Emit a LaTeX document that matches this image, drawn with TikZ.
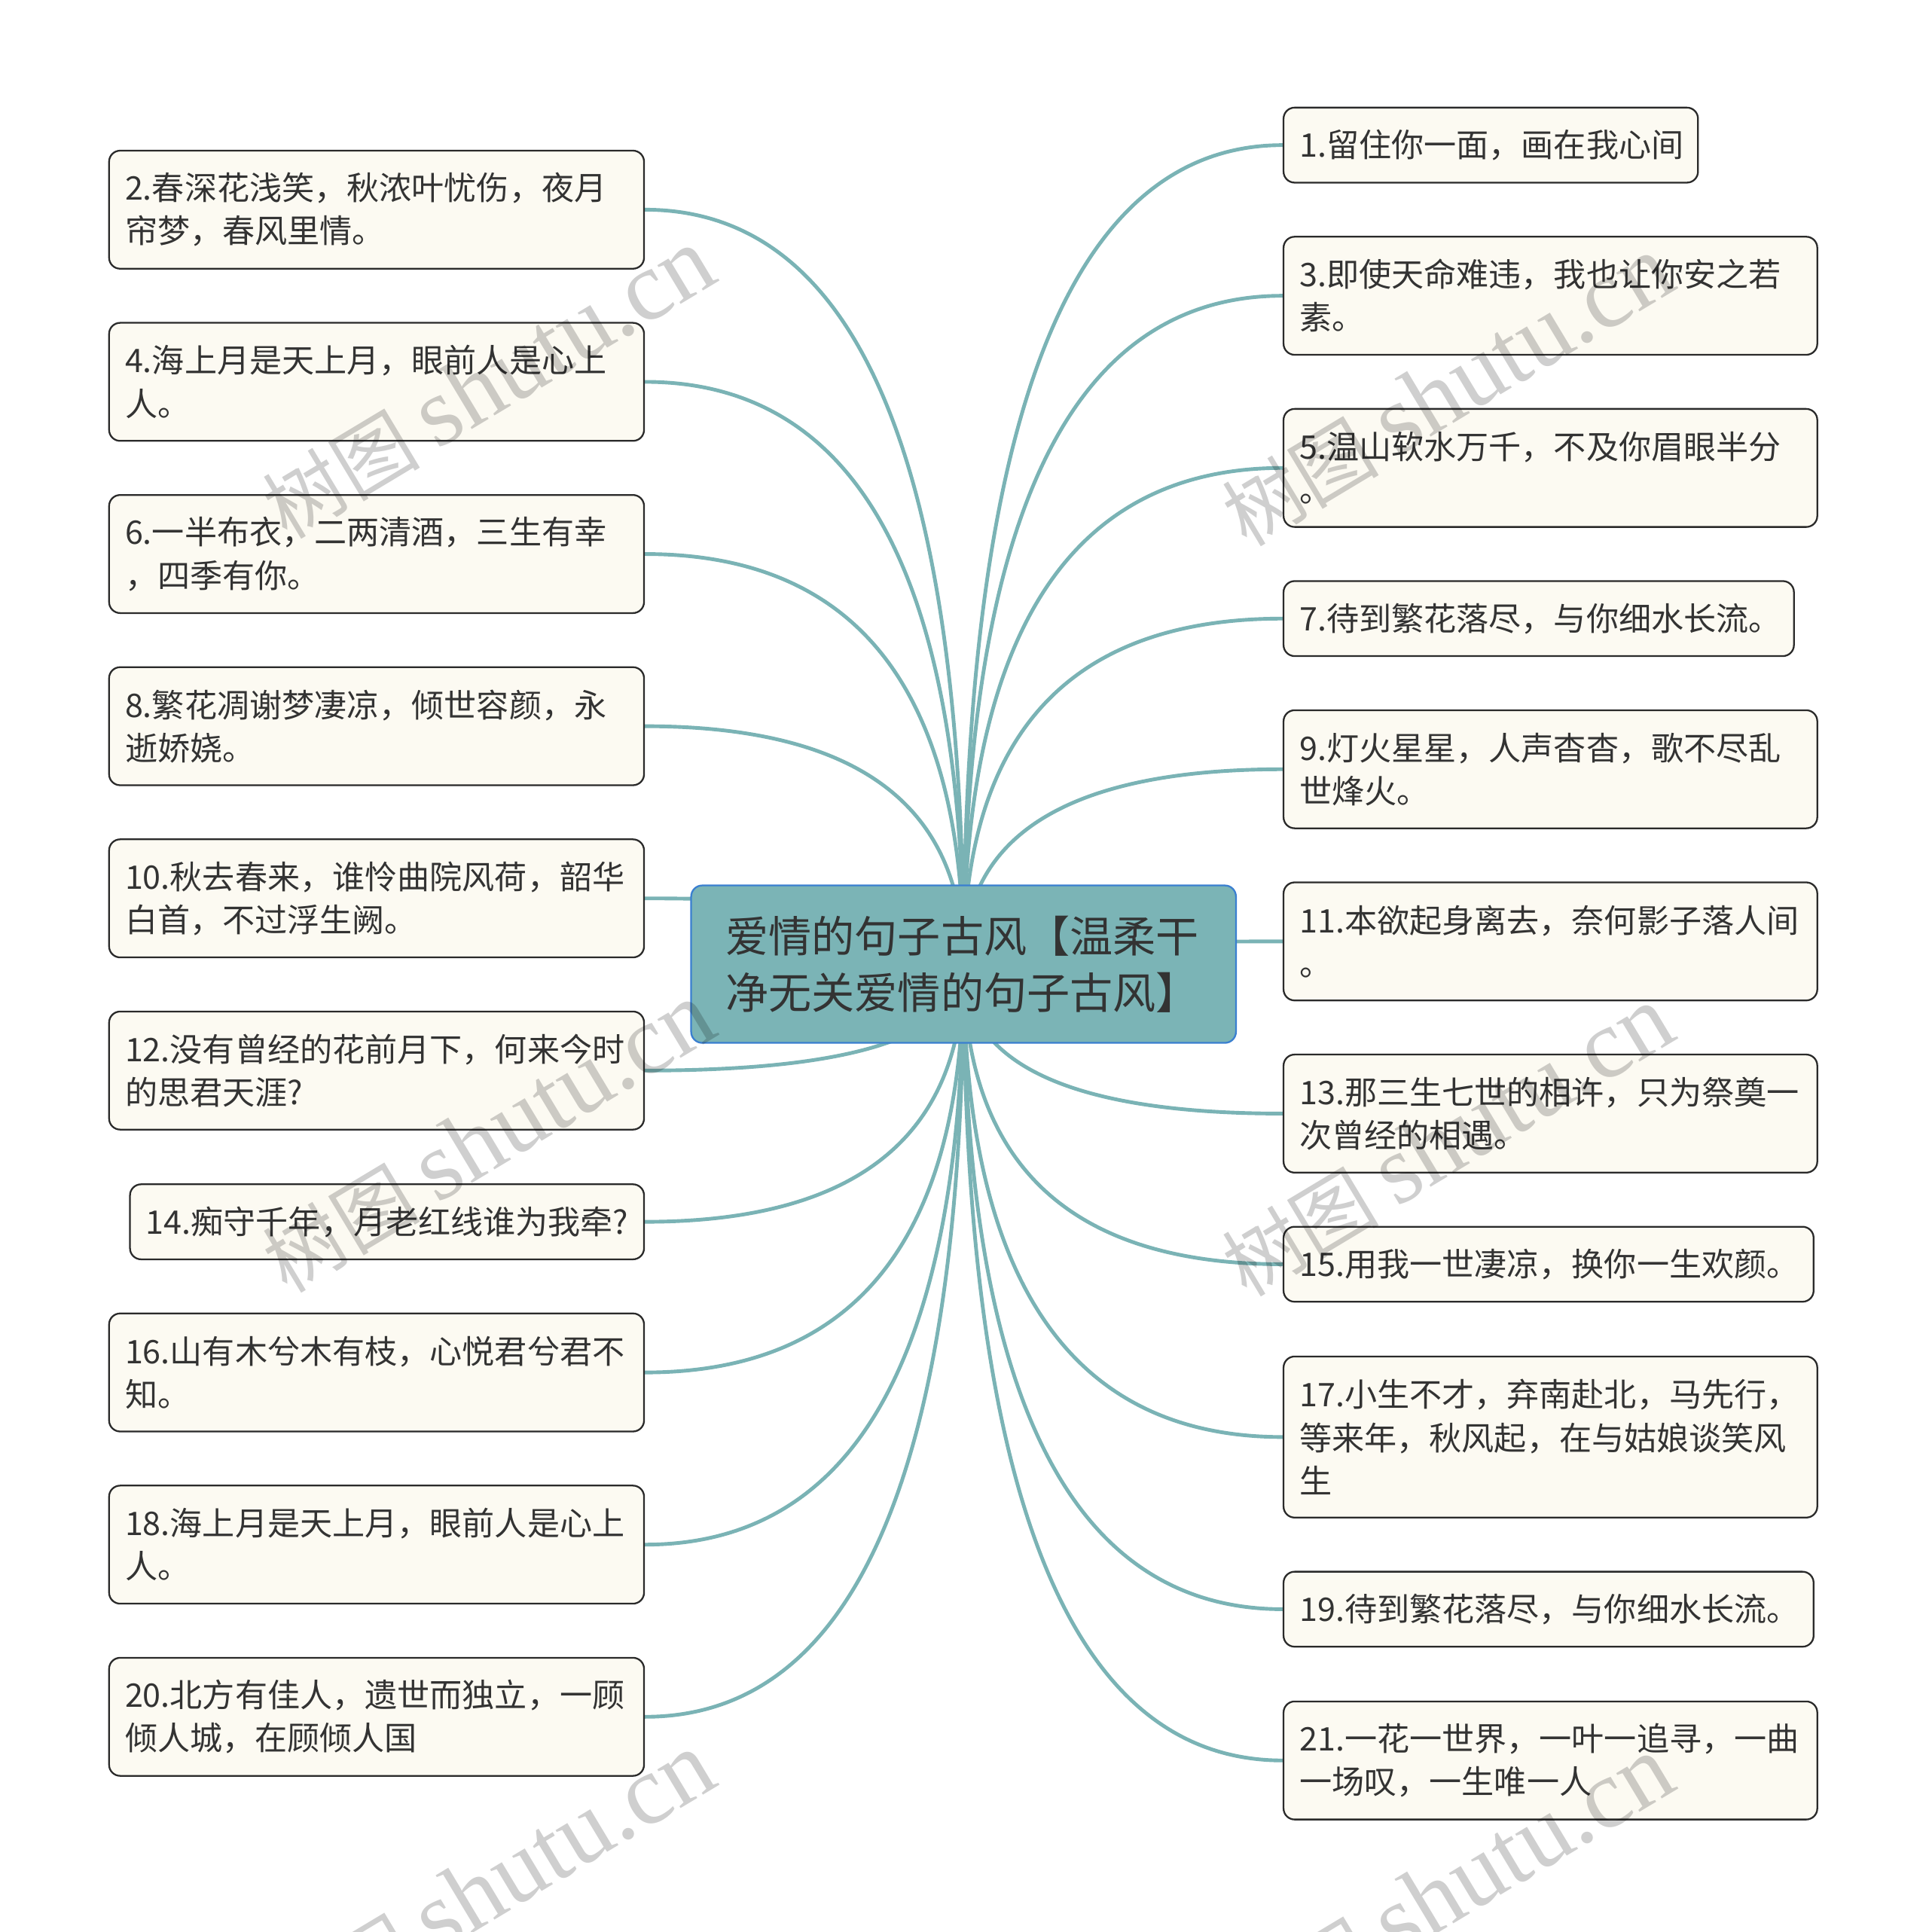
\documentclass[tikz,border=0pt]{standalone}
\usepackage{fontspec}
\setmainfont{Noto Sans CJK SC}
\newfontfamily\wmlatin{Liberation Serif}
\newfontfamily\wmcjk{Noto Sans CJK SC}
\usetikzlibrary{calc}
\pgfdeclarelayer{back}
\pgfdeclarelayer{bg}
\pgfdeclarelayer{fg}
\pgfsetlayers{back,bg,main,fg}
\definecolor{linec}{HTML}{7AB3B5}
\definecolor{leaffill}{HTML}{FCFAF2}
\definecolor{leafdraw}{HTML}{2A2A2A}
\definecolor{rootfill}{HTML}{7BB4B6}
\definecolor{rootdraw}{HTML}{3A7FD0}
\definecolor{txt}{HTML}{333333}
\begin{document}
\begin{tikzpicture}[x=1pt,y=-1pt,
  leaf/.style={draw=leafdraw, line width=1.4pt, fill=leaffill, rounded corners=9pt,
    inner xsep=13pt, inner ysep=0pt, align=left, anchor=west,
    font=\fontsize{26.4}{35}\selectfont, text=txt},
  rootbox/.style={draw=rootdraw, line width=1.4pt, fill=rootfill, rounded corners=9pt,
    inner xsep=28pt, inner ysep=0pt, align=left,
    font=\fontsize{35}{46}\selectfont, text=txt},
  conn/.style={draw=linec, line width=3pt},
  wmark/.style={text=black, text opacity=0.19, rotate=31, inner sep=0pt}
]
\useasboundingbox (0,0) rectangle (1568,1571);
\begin{pgfonlayer}{back}
\fill[white] (0,0) rectangle (1568,1571);
\end{pgfonlayer}
\clip (0,0) rectangle (1568,1571);

% root
\node[rootbox, minimum width=443, minimum height=128, text width=387] (root) at (783.5,784)
  {爱情的句子古风【温柔干\\净无关爱情的句子古风】};

% left nodes
\node[leaf, minimum width=435, minimum height=96, text width=409] (n2) at (88,170.5)
  {2.春深花浅笑，秋浓叶忧伤，夜月\\帘梦，春风里情。};
\node[leaf, minimum width=435, minimum height=96, text width=409] (n4) at (88,310.5)
  {4.海上月是天上月，眼前人是心上\\人。};
\node[leaf, minimum width=435, minimum height=96, text width=409] (n6) at (88,450.5)
  {6.一半布衣，二两清酒，三生有幸\\，四季有你。};
\node[leaf, minimum width=435, minimum height=96, text width=409] (n8) at (88,590.5)
  {8.繁花凋谢梦凄凉，倾世容颜，永\\逝娇娆。};
\node[leaf, minimum width=435, minimum height=96, text width=409] (n10) at (88,730.5)
  {10.秋去春来，谁怜曲院风荷，韶华\\白首，不过浮生阙。};
\node[leaf, minimum width=435, minimum height=96, text width=409] (n12) at (88,870.5)
  {12.没有曾经的花前月下，何来今时\\的思君天涯?};
\node[leaf, minimum width=418, minimum height=61, text width=392] (n14) at (105,993.5)
  {14.痴守千年，月老红线谁为我牵?};
\node[leaf, minimum width=435, minimum height=96, text width=409] (n16) at (88,1116)
  {16.山有木兮木有枝，心悦君兮君不\\知。};
\node[leaf, minimum width=435, minimum height=96, text width=409] (n18) at (88,1256)
  {18.海上月是天上月，眼前人是心上\\人。};
\node[leaf, minimum width=435, minimum height=96, text width=409] (n20) at (88,1396)
  {20.北方有佳人，遗世而独立，一顾\\倾人城，在顾倾人国};

% right nodes
\node[leaf, minimum width=337, minimum height=61, text width=311] (n1) at (1043,118)
  {1.留住你一面，画在我心间};
\node[leaf, minimum width=434, minimum height=96, text width=408] (n3) at (1043,240.5)
  {3.即使天命难违，我也让你安之若\\素。};
\node[leaf, minimum width=434, minimum height=96, text width=408] (n5) at (1043,380.5)
  {5.温山软水万千，不及你眉眼半分\\。};
\node[leaf, minimum width=415, minimum height=61, text width=389] (n7) at (1043,503)
  {7.待到繁花落尽，与你细水长流。};
\node[leaf, minimum width=434, minimum height=96, text width=408] (n9) at (1043,625.5)
  {9.灯火星星，人声杳杳，歌不尽乱\\世烽火。};
\node[leaf, minimum width=434, minimum height=96, text width=408] (n11) at (1043,765.5)
  {11.本欲起身离去，奈何影子落人间\\。};
\node[leaf, minimum width=434, minimum height=96, text width=408] (n13) at (1043,905.5)
  {13.那三生七世的相许，只为祭奠一\\次曾经的相遇。};
\node[leaf, minimum width=431, minimum height=61, text width=405] (n15) at (1043,1028)
  {15.用我一世凄凉，换你一生欢颜。};
\node[leaf, minimum width=434, minimum height=131, text width=408] (n17) at (1043,1168.5)
  {17.小生不才，弃南赴北，马先行，\\等来年，秋风起，在与姑娘谈笑风\\生};
\node[leaf, minimum width=431, minimum height=61, text width=405] (n19) at (1043,1308.5)
  {19.待到繁花落尽，与你细水长流。};
\node[leaf, minimum width=434, minimum height=96, text width=408] (n21) at (1043,1431.5)
  {21.一花一世界，一叶一追寻，一曲\\一场叹，一生唯一人};

% connectors
\begin{pgfonlayer}{bg}
\foreach \n in {n2,n4,n6,n8,n10,n12,n14,n16,n18,n20}{
  \draw[conn] (root.center) .. controls ($(root.center)!0.6667!(root.center |- \n.east)$)
    and ($(\n.east)!0.6667!(root.center |- \n.east)$) .. (\n.east);
}
\foreach \n in {n1,n3,n5,n7,n9,n11,n13,n15,n17,n19,n21}{
  \draw[conn] (root.center) .. controls ($(root.center)!0.6667!(root.center |- \n.west)$)
    and ($(\n.west)!0.6667!(root.center |- \n.west)$) .. (\n.west);
}
\end{pgfonlayer}

% watermarks
\begin{pgfonlayer}{fg}
\foreach \wx/\wy [count=\i] in {397/312, 1177/318, 397/925, 1177/928, 397/1535, 1177/1538}{
  \node[wmark] (wm\i) at (\wx,\wy) {\wmcjk\fontsize{64}{64}\selectfont 树图\ \wmlatin\fontsize{80}{80}\selectfont shutu.cn};
}
\end{pgfonlayer}
\end{tikzpicture}
\end{document}
